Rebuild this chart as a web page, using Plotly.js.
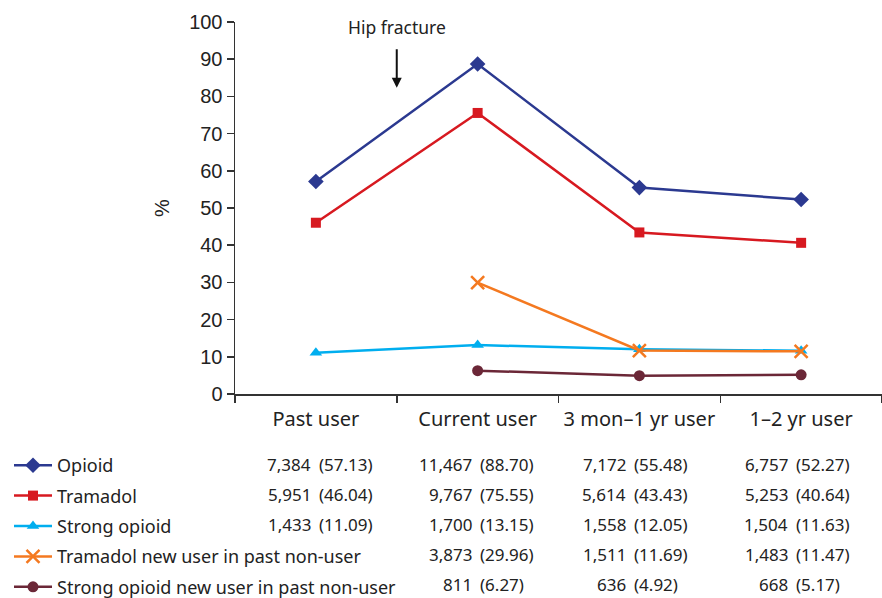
<!DOCTYPE html>
<html>
<head>
<meta charset="utf-8">
<script src="https://cdn.plot.ly/plotly-3.0.1.min.js"></script>
<style>html,body{margin:0;padding:0;background:#fff;}#chart{width:882px;height:598px;}</style>
</head>
<body>
<div id="chart"></div>
<script>
const categories = ["Past user", "Current user", "3 mon\u20131 yr user", "1\u20132 yr user"];
const seriesNames = ["Opioid", "Tramadol", "Strong opioid", "Tramadol new user in past non-user", "Strong opioid new user in past non-user"];
const opioidPct = [57.13, 88.70, 55.48, 52.27];
const tramadolPct = [46.04, 75.55, 43.43, 40.64];
const strongPct = [11.09, 13.15, 12.05, 11.63];
const tramadolNewPct = [null, 29.96, 11.69, 11.47];
const strongNewPct = [null, 6.27, 4.92, 5.17];
const opioidN = ["7,384", "11,467", "7,172", "6,757"];
const tramadolN = ["5,951", "9,767", "5,614", "5,253"];
const strongN = ["1,433", "1,700", "1,558", "1,504"];
const tramadolNewN = [null, "3,873", "1,511", "1,483"];
const strongNewN = [null, "811", "636", "668"];
const pctLabels = [
  ["57.13", "88.70", "55.48", "52.27"],
  ["46.04", "75.55", "43.43", "40.64"],
  ["11.09", "13.15", "12.05", "11.63"],
  [null, "29.96", "11.69", "11.47"],
  [null, "6.27", "4.92", "5.17"]
];
const yTicks = [0, 10, 20, 30, 40, 50, 60, 70, 80, 90, 100];

const values = [opioidPct, tramadolPct, strongPct, tramadolNewPct, strongNewPct];
const counts = [opioidN, tramadolN, strongN, tramadolNewN, strongNewN];
const colors = ["#2b3990", "#d71920", "#00aeef", "#f47920", "#6b2737"];
const symbols = ["diamond", "square", "triangle-up", "x-thin-open", "circle"];
const sizes = [12, 10, 11, 13, 11];

const traces = values.map((v, i) => ({
  type: "scatter",
  mode: "lines+markers",
  x: categories,
  y: v,
  name: seriesNames[i],
  legendgroup: "g" + i,
  line: {color: colors[i], width: 2.5},
  marker: {color: colors[i], symbol: symbols[i], size: sizes[i], line: {color: colors[i], width: symbols[i] === "x-thin-open" ? 2.5 : 0}},
  cliponaxis: false,
  connectgaps: false
}));

const rowPix = [466, 496, 526, 556, 586];
const pctStart = [0.01, 0.0, -0.043, -0.043];
const annotations = [];
const plotTop = 22, plotBottom = 394;
const tableFont = {family: "Noto Sans, sans-serif", size: 17, color: "#222"};
counts.forEach((row, r) => {
  const yp = (plotBottom - rowPix[r]) / (plotBottom - plotTop);
  row.forEach((c, j) => {
    if (c === null) return;
    annotations.push({xref: "x", yref: "paper", x: j + pctStart[j], y: yp, xshift: -4, yshift: 2, text: c, showarrow: false, xanchor: "right", yanchor: "middle", font: tableFont});
    annotations.push({xref: "x", yref: "paper", x: j + pctStart[j], y: yp, xshift: 0, yshift: 2, text: "(" + pctLabels[r][j] + ")", showarrow: false, xanchor: "left", yanchor: "middle", font: tableFont});
  });
});
annotations.push({xref: "x", yref: "y", x: 0.5, y: 82.3, ax: 0, ay: -40, axref: "pixel", ayref: "pixel", text: "", showarrow: true, arrowhead: 2, arrowsize: 1, arrowwidth: 2, arrowcolor: "#111"});
annotations.push({xref: "x", yref: "y", x: 0.5, y: 98.6, text: "Hip fracture", showarrow: false, xanchor: "center", yanchor: "middle",
  font: {family: "Noto Sans, sans-serif", size: 17.5, color: "#222"}});

const layout = {
  width: 882, height: 598,
  margin: {l: 235, r: 0, t: 22, b: 204, autoexpand: false},
  paper_bgcolor: "#fff", plot_bgcolor: "#fff",
  showlegend: true,
  legend: {x: (9 - 235) / 647, xanchor: "left", y: (plotBottom - 447) / 372, yanchor: "top", traceorder: "grouped", tracegroupgap: 4,
    itemwidth: 38, maxheight: 0.6,
    font: {family: "Noto Sans, sans-serif", size: 18, color: "#222"}, bgcolor: "rgba(0,0,0,0)"},
  xaxis: {type: "category", range: [-0.5, 3.5], showgrid: false, zeroline: false, showline: true, linecolor: "#333", linewidth: 1.5,
    ticks: "outside", tickson: "boundaries", ticklen: 7, tickcolor: "#333", tickwidth: 1.5, ticklabelstandoff: 6,
    tickfont: {family: "Noto Sans, sans-serif", size: 20, color: "#222"}},
  yaxis: {range: [0, 100], tickvals: yTicks, showgrid: false, zeroline: false, showline: true, linecolor: "#333", linewidth: 1.5,
    ticks: "outside", ticklen: 7, tickcolor: "#333", tickwidth: 1.5,
    tickfont: {family: "Liberation Sans, Arial, sans-serif", size: 20, color: "#222"},
    title: {text: "%", font: {family: "Liberation Sans, Arial, sans-serif", size: 20, color: "#222"}, standoff: 14}},
  annotations: annotations
};

Plotly.newPlot("chart", traces, layout, {displayModeBar: false, staticPlot: true});
</script>
</body>
</html>
